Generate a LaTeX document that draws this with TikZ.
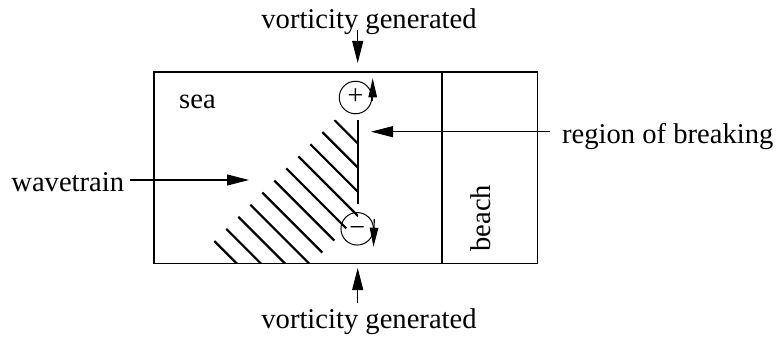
\documentclass[tikz,border=0pt]{standalone}
\usepackage{fontspec}
\setmainfont{Liberation Serif}
\usetikzlibrary{arrows.meta}
\tikzset{
  lbl/.style={inner sep=0pt, font=\fontsize{28.6}{34}\selectfont},
  thin/.style={line width=1.1pt},
  thick2/.style={line width=2.2pt},
  bigarrow/.style={line width=1.1pt, -{Triangle[length=22pt,width=11pt]}},
  smallarrow/.style={line width=1.1pt, -{Triangle[length=19pt,width=8.5pt]}},
  vort/.style={circle, draw, line width=1pt, minimum size=32.5pt, inner sep=0pt,
    text height=14.6pt, text depth=0pt, font=\fontsize{28}{34}\selectfont}
}
\begin{document}
\begin{tikzpicture}[x=1pt,y=-1pt]
\useasboundingbox (0,0) rectangle (779,339);
% boxes
\draw[thin] (154,72) rectangle (537.7,263.5);
\draw[thick2] (442,72) -- (442,263.5);
% hatching
\begin{scope}
  \clip (150,120) -- (358,120) -- (358,263.5) -- (150,263.5) -- cycle;
  \clip (334.3,120) -- (460,120) -- (460,291) -- (163,291) -- cycle;
  \foreach \k in {0,...,10} {
    \draw[thick2] ({334.3-12*\k},{120+12.1*\k}) -- ++(60,60);
  }
\end{scope}
% region of breaking line
\coordinate (brtop) at (358,120);
\coordinate (brbot) at (358,204);
\draw[thick2] (brtop) -- (brbot);
% vortices
\node[vort] (plus) at (355.5,97.5) {+};
\node[vort] (minus) at (357.2,228.8) {\textminus};
\coordinate (pa) at (372.7,101);
\coordinate (pb) at (372.7,78.3);
\draw[smallarrow] (pa) -- (pb);
\coordinate (ma) at (374.3,219);
\coordinate (mb) at (373.5,246.7);
\draw[smallarrow] (ma) -- (mb);
% labels
\node[lbl, anchor=base] (vtop) at (369,28.3) {vorticity generated};
\node[lbl, anchor=base] (vbot) at (369,328.3) {vorticity generated};
\node[lbl, anchor=base west] (rob) at (562,143.3) {region of breaking};
\node[lbl, anchor=base west] (wave) at (11.2,191.7) {wavetrain};
\node[lbl, anchor=base west] (sea) at (179,108.3) {sea};
\node[lbl, anchor=base west, rotate=90] (beach) at (490,251.7) {beach};
% arrows
\coordinate (t1) at (357.7,30);
\coordinate (t2) at (357.7,63);
\draw[bigarrow] (t1) -- (t2);
\coordinate (b1) at (357.7,302.7);
\coordinate (b2) at (357.7,268);
\draw[bigarrow] (b1) -- (b2);
\coordinate (r1) at (550,131.7);
\coordinate (r2) at (371,131.7);
\draw[bigarrow] (r1) -- (r2);
\coordinate (w1) at (130,180);
\coordinate (w2) at (249,180);
\draw[bigarrow] (w1) -- (w2);
\end{tikzpicture}
\end{document}
